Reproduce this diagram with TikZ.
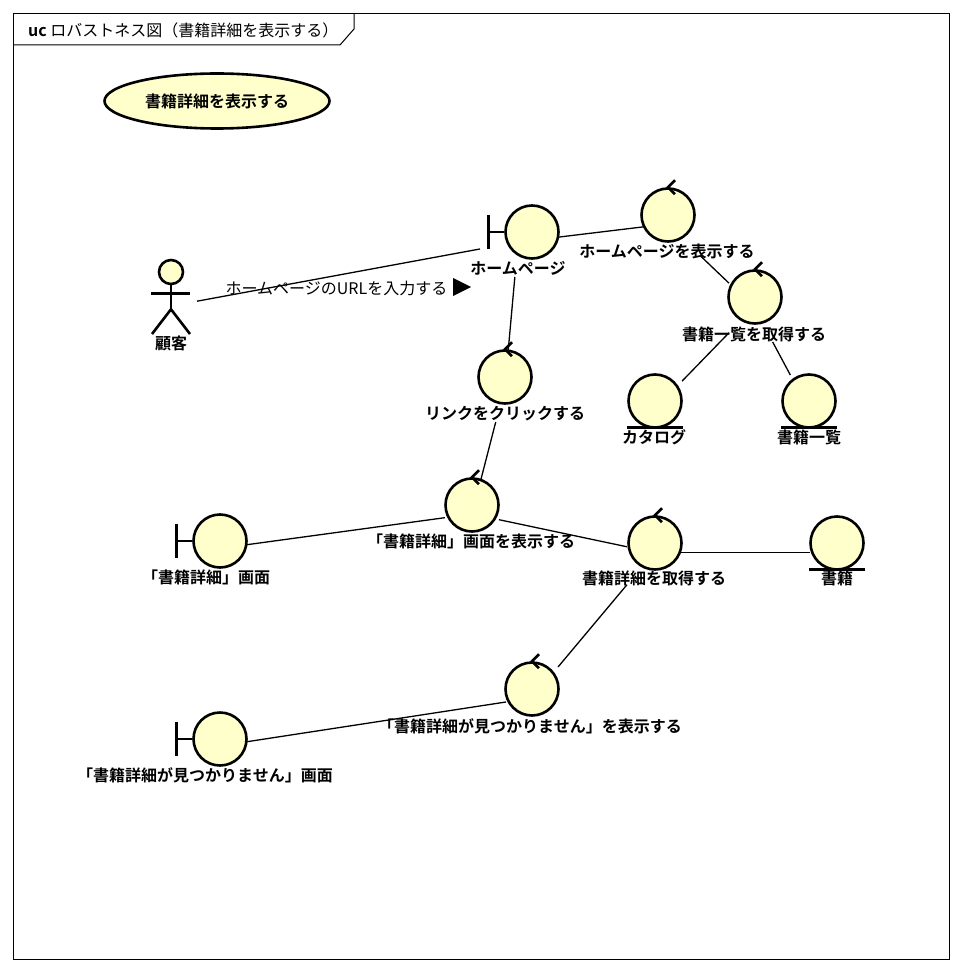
\documentclass[tikz,border=0pt]{standalone}
\usepackage{fontspec}
\usetikzlibrary{shapes.geometric}
\setmainfont{Noto Sans CJK JP}[BoldFont={Noto Sans CJK JP Bold}]
\definecolor{ball}{RGB}{255, 255, 204}
\tikzset{
  zone/.style={inner sep=0pt, outer sep=0pt, minimum width=#1},
  ballicon/.style={circle, draw, fill=ball, line width=2.6pt, inner sep=0pt, minimum size=53pt},
  iconline/.style={line width=2.6pt},
  namelabel/.style={font=\fontsize{16}{16}\selectfont\bfseries, inner sep=0pt, text height=14pt, text depth=1pt},
  thinlabel/.style={font=\fontsize{16}{16}\selectfont, inner sep=0pt, text height=14pt, text depth=1pt}
}

\begin{document}
\begin{tikzpicture}[x=1pt, y=-1pt, line width=1.3pt]
  \useasboundingbox (0,0) rectangle (962,973);
  \draw[line width=1pt] (13.5,13.5) rectangle (949.5,959.5);
  \draw[line width=1pt] (354,13.5) -- (354,29) -- (340,45) -- (13.5,45);
  \node[thinlabel, anchor=west] (title) at (27.5,30) {\textbf{uc} ロバストネス図（書籍詳細を表示する）};

  \node[ellipse, draw, fill=ball, line width=2.6pt, inner sep=0pt, minimum width=225pt, minimum height=55pt, namelabel] (usecase) at (217,101) {書籍詳細を表示する};

  % invisible boxes that the lines stop at
  \foreach \nm/\bx/\by/\bw/\bh in {customer/171/306/52/92, home/518/242/76/70,
    showhome/667/224/66/64, getlist/754/307/50/70, catalog/654/410/56/70, booklist/809/410/56/70,
    clicklink/505/386/50/72, showdetail/472/514/54/70, getdetail/654/552.5/54/70, book/837/552.5/54/70,
    shownf/532/698/52/70, detailpage/208/550/76/72, nfpage/206/748/76/72}
    \node[zone=\bw pt, minimum height=\bh pt] (\nm) at (\bx,\by) {};

  \foreach \from/\to in {customer/home, showhome/getlist, getlist/catalog,
    getlist/booklist, home/clicklink, clicklink/showdetail, showdetail/detailpage,
    showdetail/getdetail, getdetail/book, getdetail/shownf, shownf/nfpage}
    \draw (\from) -- (\to);
  \draw (home) -- (showhome.center);

  % actor
  \node[ballicon, minimum size=24pt] (headicon) at (171,272) {};
  \draw[iconline] (headicon.south) -- ++(0,24) coordinate (hip);
  \draw[iconline] (151,293.5) -- (190,293.5);
  \draw[iconline] (152,334) -- (hip) -- (190,334);
  \node[namelabel] (customerlabel) at (171,343) {顧客};

  % boundary
  \foreach \nm/\cx/\cy/\lx/\ly/\txt in {home/532/232/518/268/ホームページ,
    detailpage/220/541/206/577/「書籍詳細」画面,
    nfpage/220/739/205/775/「書籍詳細が見つかりません」画面}
  {
    \node[ballicon] (\nm icon) at (\cx,\cy) {};
    \draw[iconline] (\nm icon.west) -- ++(-16,0) ++(0,-17) -- ++(0,34);
    \node[namelabel] (\nm label) at (\lx,\ly) {\txt};
  }

  % control
  \foreach \nm/\cx/\cy/\lx/\ly/\txt in {showhome/668/215/667/251/ホームページを表示する,
    getlist/755/297/754/334/書籍一覧を取得する,
    clicklink/505/377/505/413/リンクをクリックする,
    showdetail/472/505/471/541/「書籍詳細」画面を表示する,
    getdetail/655/543/654/578/書籍詳細を取得する,
    shownf/532/689/530/726/「書籍詳細が見つかりません」を表示する}
  {
    \node[ballicon] (\nm icon) at (\cx,\cy) {};
    \draw[iconline] (\nm icon.north) ++(7,-7) -- ++(-7,7) -- ++(7,7);
    \node[namelabel] (\nm label) at (\lx,\ly) {\txt};
  }

  % entity
  \foreach \nm/\cx/\cy/\lx/\ly/\txt in {catalog/655/401/654/437/カタログ,
    booklist/809/401/809/437/書籍一覧, book/837/543/837/578/書籍}
  {
    \node[ballicon] (\nm icon) at (\cx,\cy) {};
    \draw[iconline] (\nm icon.south) ++(-28,-1.5) -- ++(56,0);
    \node[namelabel] (\nm label) at (\lx,\ly) {\txt};
  }

  \node[thinlabel] (urllabel) at (336.5,288) {ホームページのURLを入力する};
  \fill (453,278) -- (471,287) -- (453,296) -- cycle;
\end{tikzpicture}
\end{document}
